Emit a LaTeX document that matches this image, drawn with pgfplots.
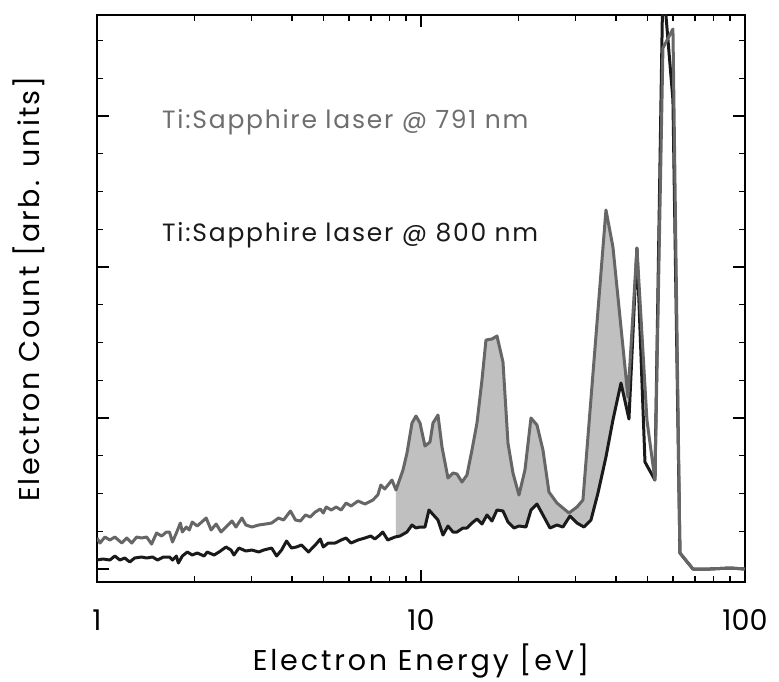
\documentclass[border=0pt]{standalone}
\usepackage{fontspec}
\setmainfont{Poppins}
\newfontfamily\lsx[LetterSpace=10]{Poppins}
\newfontfamily\lsy[LetterSpace=7.5]{Poppins}
\newfontfamily\lsn[LetterSpace=7]{Poppins}
\usepackage{pgfplots}
\pgfplotsset{compat=1.18}
\definecolor{grayline}{HTML}{666666}
\definecolor{blackline}{HTML}{1A1A1A}
\definecolor{fillgray}{HTML}{C0C0C0}
\definecolor{graytext}{HTML}{6E6E6E}
\begin{document}
\begin{tikzpicture}
\useasboundingbox (0,0) rectangle (389.5pt,340.5pt);
\begin{axis}[
  at={(48.5pt,49.5pt)}, anchor=south west,
  scale only axis, width=324pt, height=283.5pt,
  xmode=log, xmin=1, xmax=100,
  ymin=-13, ymax=554,
  xtick={1,10,100}, xticklabels={1,10,100},
  minor xtick={2,3,4,5,6,7,8,9,20,30,40,50,60,70,80,90},
  ytick={0,151,302,453}, yticklabels={},
  minor ytick={37.75,75.5,113.25,188.75,226.5,264.25,339.75,377.5,415.25,490.75,528.5},
  major tick length=6pt, minor tick length=3pt,
  every tick/.style={black, line width=0.7pt},
  axis line style={line width=0.8pt},
  /pgf/number format/assume math mode=true,
  tick label style={font=\fontsize{14.3}{17}\selectfont},
  xticklabel style={anchor=base, yshift=-24pt},
  xlabel={\lsx Electron Energy [eV]},
  ylabel={\lsy Electron Count [arb. units]},
  xlabel style={font=\fontsize{14.3}{17}\selectfont, at={(axis description cs:0.5,-0.1552)}, anchor=base},
  ylabel style={font=\fontsize{14.3}{17}\selectfont, at={(axis description cs:-0.1049,0.517)}, anchor=center},
  clip=true,
]
% shaded region between the two spectra
\addplot[fill=fillgray, draw=none] coordinates {
(8.3711,32) (8.3711,79) (8.7983,99) (9.0530,116) (9.3802,146) (9.6503,153) (9.9289,146) (10.2865,123) (10.6588,127) (10.8886,146) (11.2827,154) (11.6090,122) (12.1121,91) (12.5506,96) (12.9122,95) (13.3797,87) (13.8637,94) (14.3655,119) (14.8857,146) (15.4247,189) (15.8691,229) (16.5607,230) (17.1598,233) (17.9074,207) (18.5552,126) (19.2258,96) (20.0617,74) (20.9357,99) (21.8484,151) (22.7985,144) (23.7899,119) (24.8253,77) (26.2759,66) (28.6181,56) (30.2914,62) (31.6098,69) (37.2278,359) (39.1240,322) (43.5229,172)
(43.8378,150) (41.4199,186) (39.1240,149) (37.2278,112) (35.1741,76) (33.4667,49) (31.8280,42) (30.2914,46) (28.8246,53) (27.4235,42) (26.2759,44) (25.0048,41) (23.7899,54) (22.7985,65) (21.8484,59) (21.0853,42) (20.0617,43) (19.3618,41) (18.5552,47) (17.9074,58) (17.1598,59) (16.5607,48) (15.9833,54) (15.4247,45) (14.8857,50) (14.3655,46) (13.8637,41) (13.4743,41) (12.9122,37) (12.5506,37) (12.1121,43) (11.6912,34) (11.2827,49) (10.5829,59) (10.2865,42) (9.9289,42) (9.6503,41) (9.3802,44) (9.0530,37) (8.6124,33)
} -- cycle;
\addplot[blackline, line width=1.5pt, line join=round] coordinates {
(1.000,9) (1.0432,10) (1.0960,9) (1.1353,13) (1.1761,9) (1.2185,11) (1.2620,7) (1.3070,11) (1.3733,12) (1.4228,11) (1.4839,12) (1.5378,9) (1.6042,12) (1.6740,12) (1.7098,9) (1.7580,13) (1.7830,6) (1.8341,13) (1.9003,17) (1.9679,14) (2.0389,16) (2.1418,13) (2.1877,17) (2.2980,14) (2.3806,17) (2.5017,22) (2.5915,19) (2.6468,14) (2.7415,21) (2.8806,18) (3.0052,19) (3.1569,17) (3.2698,19) (3.4594,21) (3.5843,13) (3.7130,19) (3.8463,28) (3.9838,21) (4.1275,22) (4.2757,24) (4.4916,17) (4.7192,24) (4.8887,30) (4.9932,22) (5.1720,26) (5.4326,26) (5.6693,29) (5.8729,31) (6.0838,26) (6.3911,29) (6.7141,31) (7.0022,33) (7.2027,30) (7.4626,34) (7.6222,37) (7.8960,29) (8.3118,32) (8.6124,33) (9.0530,37) (9.3802,44) (9.6503,41) (9.9289,42) (10.2865,42) (10.5829,59) (11.2827,49) (11.6912,34) (12.1121,43) (12.5506,37) (12.9122,37) (13.4743,41) (13.8637,41) (14.3655,46) (14.8857,50) (15.4247,45) (15.9833,54) (16.5607,48) (17.1598,59) (17.9074,58) (18.5552,47) (19.3618,41) (20.0617,43) (21.0853,42) (21.8484,59) (22.7985,65) (23.7899,54) (25.0048,41) (26.2759,44) (27.4235,42) (28.8246,53) (30.2914,46) (31.8280,42) (33.4667,49) (35.1741,76) (37.2278,112) (39.1240,149) (41.4199,186) (43.8378,150) (46.3950,321) (49.1193,107) (52.7245,89) (55.8081,590) (59.9220,469) (62.9774,16) (69.0812,0) (77.9582,0) (89.8430,1) (100,0)
};
\addplot[grayline, line width=1.5pt, line join=round] coordinates {
(1.000,31) (1.0214,26) (1.0580,32) (1.0960,29) (1.1353,32) (1.1928,26) (1.2358,31) (1.2800,26) (1.3256,32) (1.3733,31) (1.4228,32) (1.4741,25) (1.5271,36) (1.5820,33) (1.6389,37) (1.6740,37) (1.7098,27) (1.7580,36) (1.8084,46) (1.8341,37) (1.8868,42) (1.9270,39) (1.9679,47) (2.0389,43) (2.1727,51) (2.2505,39) (2.3313,45) (2.4150,37) (2.5017,42) (2.6096,48) (2.6843,42) (2.8007,51) (2.8806,44) (3.0052,42) (3.1569,44) (3.3166,45) (3.4594,46) (3.6345,51) (3.7648,49) (3.9553,58) (4.0980,49) (4.2452,48) (4.3977,54) (4.5556,52) (4.7192,57) (4.8887,60) (4.9932,56) (5.0999,62) (5.2830,59) (5.4728,62) (5.6693,59) (5.8729,66) (6.0838,63) (6.3911,68) (6.7141,65) (7.1038,69) (7.3590,74) (7.5162,84) (7.7305,80) (8.1363,89) (8.3711,79) (8.7983,99) (9.0530,116) (9.3802,146) (9.6503,153) (9.9289,146) (10.2865,123) (10.6588,127) (10.8886,146) (11.2827,154) (11.6090,122) (12.1121,91) (12.5506,96) (12.9122,95) (13.3797,87) (13.8637,94) (14.3655,119) (14.8857,146) (15.4247,189) (15.8691,229) (16.5607,230) (17.1598,233) (17.9074,207) (18.5552,126) (19.2258,96) (20.0617,74) (20.9357,99) (21.8484,151) (22.7985,144) (23.7899,119) (24.8253,77) (26.2759,66) (28.6181,56) (30.2914,62) (31.6098,69) (37.2278,359) (39.1240,322) (43.5229,172) (46.3950,321) (49.8079,149) (52.7245,89) (55.8081,521) (59.9220,540) (62.9774,16) (69.0812,0) (77.9582,0) (89.8430,1) (100,0)
};
\node[anchor=base west, inner sep=0pt, text=graytext, font=\fontsize{12.5}{15}\selectfont\lsn] at (axis cs:1.585,440) {Ti:Sapphire laser @ 791 nm};
\node[anchor=base west, inner sep=0pt, text=blackline, font=\fontsize{12.5}{15}\selectfont\lsn] at (axis cs:1.585,328) {Ti:Sapphire laser @ 800 nm};
\end{axis}
\end{tikzpicture}
\end{document}
